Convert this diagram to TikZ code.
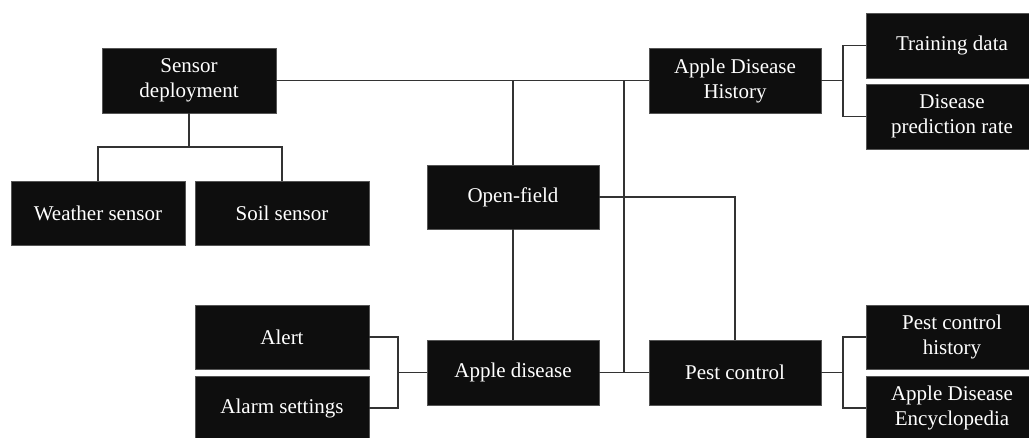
\documentclass[tikz,border=0pt]{standalone}
\usepackage{fontspec}
\setmainfont{Liberation Serif}
\usetikzlibrary{calc}
\definecolor{boxfill}{HTML}{0E0E0E}
\definecolor{boxedge}{HTML}{555555}
\definecolor{linec}{HTML}{333333}
\tikzset{
  blk/.style={rectangle, fill=boxfill, draw=boxedge, line width=0.6pt, text=white, align=center,
    inner sep=0pt, minimum width=173pt, minimum height=65pt,
    font=\fontsize{21}{25}\selectfont},
  conn/.style={draw=linec, line width=1.4pt}
}
\begin{document}
\begin{tikzpicture}[x=1pt,y=-1pt]
\useasboundingbox (0,0) rectangle (1029,438);
\clip (0,0) rectangle (1029,438);
% nodes
\node[blk, minimum width=174pt] (sd) at (189,80.5) {Sensor\\deployment};
\node[blk, minimum width=174pt, minimum height=64pt] (ws) at (98,213) {Weather sensor};
\node[blk, minimum width=174pt, minimum height=64pt] (ss) at (282,213.5) {Soil sensor};
\node[blk, minimum width=172pt, minimum height=64pt] (of) at (513,197) {Open-field};
\node[blk, minimum width=172pt] (adh) at (735,80.5) {Apple Disease\\History};
\node[blk, minimum width=172pt] (td) at (952,45.5) {Training data};
\node[blk, minimum width=172pt] (dp) at (952,116.5) {Disease\\prediction rate};
\node[blk, minimum width=174pt, minimum height=64pt] (al) at (282,337) {Alert};
\node[blk, minimum width=174pt, minimum height=64pt] (as) at (282,408) {Alarm settings};
\node[blk, minimum width=172pt] (ad) at (513,372.5) {Apple disease};
\node[blk, minimum width=172pt] (pc) at (735,372.5) {Pest control};
\node[blk, minimum width=172pt, minimum height=64pt] (pch) at (952,337) {Pest control\\history};
\node[blk, minimum width=172pt, minimum height=64pt] (ade) at (952,408) {Apple Disease\\Encyclopedia};
% junctions
\coordinate (sdj) at (189,147);
\coordinate (adhj) at (843,80.5);
\coordinate (pcj) at (843,372.5);
\coordinate (adj) at (398,372.5);
\coordinate (mj) at ($(ad.east)!0.5!(pc.west)$);
% connectors
\draw[conn] (sd.east) -- (adh.west);
\draw[conn] (of.north) -- (of.north |- sd.east);
\draw[conn] (of.south) -- (ad.north);
\draw[conn] (ad.east) -- (pc.west);
\draw[conn] (mj) -- (mj |- sd.east);
\draw[conn] (of.east) -| (pc.north);
\draw[conn] (sd.south) -- (sdj);
\draw[conn] (ws.north) |- (sdj) -| (ss.north);
\draw[conn] (adh.east) -- (adhj);
\draw[conn] (td.west) -| (adhj) |- (dp.west);
\draw[conn] (pc.east) -- (pcj);
\draw[conn] (pch.west) -| (pcj) |- (ade.west);
\draw[conn] (ad.west) -- (adj);
\draw[conn] (al.east) -| (adj) |- (as.east);
\end{tikzpicture}
\end{document}
